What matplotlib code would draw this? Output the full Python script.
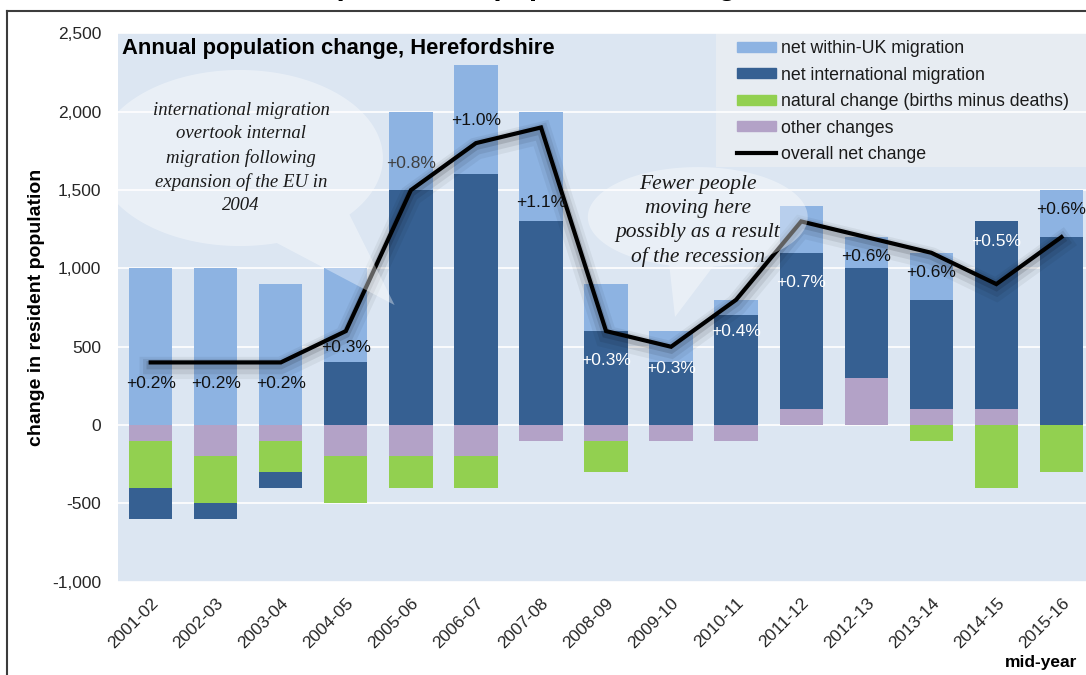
import numpy as np
import matplotlib
matplotlib.use("Agg")
import matplotlib.pyplot as plt
import matplotlib.patheffects as pe
from matplotlib.patches import Polygon, Rectangle, Patch
from matplotlib.lines import Line2D

# data
years = ["2001-02", "2002-03", "2003-04", "2004-05", "2005-06", "2006-07", "2007-08",
         "2008-09", "2009-10", "2010-11", "2011-12", "2012-13", "2013-14", "2014-15", "2015-16"]
within_uk = [1000, 1000, 900, 600, 500, 700, 700, 300, 200, 100, 300, 200, 300, 0, 300]
international = [-200, -100, -100, 400, 1500, 1600, 1300, 600, 400, 700, 1000, 700, 700, 1200, 1200]
natural = [-300, -300, -200, -300, -200, -200, 0, -200, 0, 0, 0, 0, -100, -400, -300]
other = [-100, -200, -100, -200, -200, -200, -100, -100, -100, -100, 100, 300, 100, 100, 0]
overall = [400, 400, 400, 600, 1500, 1800, 1900, 600, 500, 800, 1300, 1200, 1100, 900, 1200]
pct_labels = ["+0.2%", "+0.2%", "+0.2%", "+0.3%", "+0.8%", "+1.0%", "+1.1%",
              "+0.3%", "+0.3%", "+0.4%", "+0.7%", "+0.6%", "+0.6%", "+0.5%", "+0.6%"]

# label placement (points above/below the line) and colours
label_dy = [-15, -15, -15, -12, 19, 16, -54, -21, -16, -23, -44, -14, -14, 31, 20]
label_col = ["#111111"] * 4 + ["#404040"] + ["#111111"] * 2 + ["white"] * 4 + ["#111111"] * 2 + ["white", "#111111"]

c_uk = "#8db3e2"
c_int = "#366092"
c_nat = "#92d050"
c_oth = "#b3a2c7"
c_bg = "#dce6f2"

plt.rcParams["font.family"] = ["Liberation Sans", "DejaVu Sans"]
plt.rcParams["axes.unicode_minus"] = False

fig = plt.figure(figsize=(10.86, 6.75), dpi=100)
ax = fig.add_axes([0.1088, 0.1382, 0.8985, 0.8122])
ax.set_facecolor(c_bg)
for s in ax.spines.values():
    s.set_visible(False)

x = np.arange(len(years))
pos_b = np.zeros(len(years))
neg_b = np.zeros(len(years))
for vals, col in [(other, c_oth), (natural, c_nat), (international, c_int), (within_uk, c_uk)]:
    v = np.array(vals, dtype=float)
    b = np.where(v >= 0, pos_b, neg_b)
    ax.bar(x, v, bottom=b, width=0.666, color=col, zorder=1)
    pos_b += np.clip(v, 0, None)
    neg_b += np.clip(v, None, 0)

shadow = [pe.Stroke(offset=(0, -4), linewidth=16, foreground="k", alpha=0.05),
          pe.Stroke(offset=(0, -3), linewidth=11, foreground="k", alpha=0.08),
          pe.Stroke(offset=(0, -2), linewidth=6, foreground="k", alpha=0.12),
          pe.Normal()]
ax.plot(x, overall, color="black", lw=3, zorder=2.5, path_effects=shadow,
        solid_joinstyle="miter")

for i, lab in enumerate(pct_labels):
    ax.annotate(lab, (x[i], overall[i]), xytext=(0, label_dy[i]), textcoords="offset points",
                ha="center", va="center", fontsize=12.5, color=label_col[i], zorder=3)


def bubble(cx, cy, a, b, t1, t2, tip):
    ts = np.linspace(np.radians(t2), np.radians(t1) + 2 * np.pi, 240)
    pts = np.column_stack([cx + a * np.cos(ts), cy + b * np.sin(ts)])
    pts = np.vstack([pts, tip])
    ax.add_patch(Polygon(pts, closed=True, facecolor="white", alpha=0.38,
                         edgecolor="none", zorder=4))


bubble(1.37, 1705, 2.2, 562, -75, -40, (3.75, 766))
bubble(8.41, 1328, 1.69, 319, -105, -82, (8.06, 690))

note_kw = dict(ha="center", va="center", style="italic",
               family=["Liberation Serif", "DejaVu Serif"], zorder=5, color="#1a1a1a")
ax.text(1.39, 1705, "international migration\novertook internal\nmigration following\n"
        "expansion of the EU in\n2004", fontsize=13.5, linespacing=1.47, **note_kw)
ax.text(8.41, 1302, "Fewer people\nmoving here\npossibly as a result\nof the recession",
        fontsize=15.5, linespacing=1.35, **note_kw)

ax.set_xlim(-0.5, len(years) - 0.5)
ax.set_ylim(-1000, 2500)
ax.set_yticks(range(-1000, 2501, 500))
ax.yaxis.set_major_formatter(matplotlib.ticker.StrMethodFormatter("{x:,.0f}"))
ax.grid(axis="y", color="white", lw=1.2)
ax.set_axisbelow(True)
ax.tick_params(length=0, labelsize=12.5, labelcolor="#262626")
ax.tick_params(axis="y", pad=12)
ax.set_xticks(x)
ax.set_xticklabels(years, rotation=45, ha="right", rotation_mode="anchor")
ax.tick_params(axis="x", pad=10)

ax.set_ylabel("change in resident population", fontsize=14, fontweight="bold")
ax.yaxis.set_label_coords(-0.075, 0.5)

ax.text(0.004, 0.9717, "Annual population change, Herefordshire", transform=ax.transAxes,
        fontsize=15.8, fontweight="bold", va="center", ha="left", zorder=6)

# legend with its own background box
ax.add_patch(Rectangle((0.6125, 0.757), 0.3875, 0.243, transform=ax.transAxes,
                       facecolor="#eceff3", edgecolor="none", alpha=0.75, zorder=0.2))
handles = [Patch(color=c_uk), Patch(color=c_int), Patch(color=c_nat), Patch(color=c_oth),
           Line2D([], [], color="black", lw=3)]
names = ["net within-UK migration", "net international migration",
         "natural change (births minus deaths)", "other changes", "overall net change"]
fig.legend(handles, names, loc="upper left", bbox_to_anchor=(737 / 1086, 1 - 40 / 675),
           frameon=False, fontsize=12.8, borderpad=0, borderaxespad=0, handlelength=2.2,
           handleheight=0.5, handletextpad=0.25, labelspacing=0.535, labelcolor="#1a1a1a")

# outer frame and cut-off heading
fig.add_artist(Line2D([7 / 1086, 7 / 1086], [0, 1 - 11 / 675], transform=fig.transFigure,
                      color="#3c3c3c", lw=1.5))
fig.add_artist(Line2D([7 / 1086, 1], [1 - 11 / 675, 1 - 11 / 675], transform=fig.transFigure,
                      color="#3c3c3c", lw=1.5))
fig.text(272 / 1086, 1 + 5 / 675, "Components of population change", fontsize=21,
         fontweight="bold", va="baseline", ha="left")
fig.text(1077 / 1086, 1 - 662 / 675, "mid-year", fontsize=12.5, fontweight="bold",
         ha="right", va="center")

fig.savefig("out.png", dpi=100)
